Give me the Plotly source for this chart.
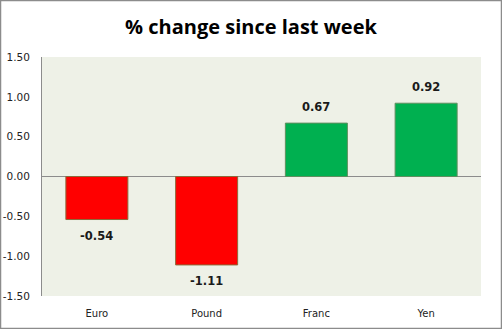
import plotly.graph_objects as go

categories = ["Euro", "Pound", "Franc", "Yen"]
values = [-0.54, -1.11, 0.67, 0.92]
labels = ["-0.54", "-1.11", "0.67", "0.92"]
tick_vals = [-1.5, -1.0, -0.5, 0.0, 0.5, 1.0, 1.5]
tick_text = ["-1.50", "-1.00", "-0.50", "0.00", "0.50", "1.00", "1.50"]

fill = ["#FF0000" if v < 0 else "#00B050" for v in values]
edge = ["#8C6A3A" if v < 0 else "#5F8F5F" for v in values]

fig = go.Figure()
fig.add_trace(go.Bar(
    x=categories, y=values, width=0.565,
    marker=dict(color=fill, line=dict(color=edge, width=1)),
    hoverinfo="x+y",
))

annotations = []
for c, v, s in zip(categories, values, labels):
    annotations.append(dict(
        x=c, y=v, xref="x", yref="y", text="<b>%s</b>" % s, showarrow=False,
        yshift=-16 if v < 0 else 16, yanchor="middle",
        font=dict(family="DejaVu Sans", size=11.5, color="#1a1a1a"),
    ))

W, H = 502, 329
l, r, t, b = 42, 21, 57, 33
pw, ph = W - l - r, H - t - b

fig.update_layout(
    width=W, height=H,
    margin=dict(l=l, r=r, t=t, b=b),
    paper_bgcolor="white", plot_bgcolor="#EEF1E7",
    showlegend=False,
    annotations=annotations,
    title=dict(text="<b>% change since last week</b>", x=0.5, xanchor="center",
               y=1 - 27 / H, yanchor="middle",
               font=dict(family="Open Sans", size=20, color="black")),
    xaxis=dict(showgrid=False, showline=False, ticks="outside", ticklen=8,
               tickcolor="rgba(0,0,0,0)", automargin=False,
               tickfont=dict(family="DejaVu Sans", size=10, color="#222")),
    yaxis=dict(range=[-1.5, 1.5], tickvals=tick_vals, ticktext=tick_text,
               showgrid=False, showline=True, linecolor="#8c8c8c", linewidth=1,
               zeroline=True, zerolinecolor="#8c8c8c", zerolinewidth=1,
               ticks="", ticklabelstandoff=9, automargin=False,
               tickfont=dict(family="DejaVu Sans", size=10.5, color="#222")),
    shapes=[dict(type="rect", xref="paper", yref="paper",
                 x0=(0.5 - l) / pw, x1=(W - 0.5 - l) / pw,
                 y0=(-b + 0.5) / ph, y1=(H - b - 0.5) / ph,
                 line=dict(color="#8c8c8c", width=1.5), layer="above")],
)

fig.write_html("out.html")
